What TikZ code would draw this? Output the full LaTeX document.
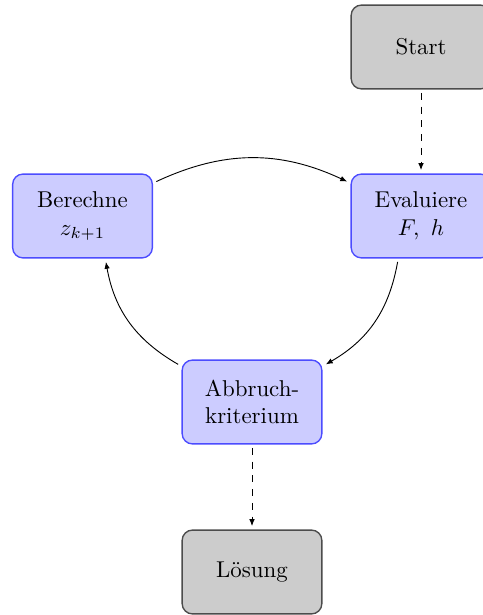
\documentclass[tikz,border=0pt]{standalone}
\usetikzlibrary{arrows.meta}

\tikzset{
  box/.style={rectangle, rounded corners=4.5pt, minimum width=61pt,
    minimum height=36.6pt, outer sep=1.75pt, line width=0.6pt, align=center},
  loopbox/.style={box, draw=blue!70, fill=blue!20},
  endbox/.style={box, draw=black!70, fill=black!20},
  flow/.style={-{Latex[length=3pt,width=2.4pt]}},
  dashflow/.style={flow, dashed},
}

\begin{document}
\begin{tikzpicture}[x=0.4367pt, y=0.4367pt]
  \useasboundingbox (0,0) rectangle (482,615);

  % nodes of the iteration
  \node[endbox]  (start)    at (421,568) {Start};
  \node[loopbox] (eval)     at (421,399) {Evaluiere\\ $F,\ h$};
  \node[loopbox] (calc)     at (82.5,399) {Berechne\\ $z_{k+1}$};
  \node[loopbox] (stopcrit) at (252,213) {Abbruch-\\kriterium};
  \node[endbox]  (result)   at (252,43) {L\"osung};

  % entry and exit
  \draw[dashflow] (start) -- (eval);
  \draw[dashflow] (stopcrit) -- (result);

  % the loop
  \draw[flow] (calc.25) to[bend left=25] (eval.155);
  \draw[flow] (eval.243) to[bend left=25] (stopcrit.27);
  \draw[flow] (stopcrit.153) to[bend left=25] (calc.297);
\end{tikzpicture}
\end{document}
